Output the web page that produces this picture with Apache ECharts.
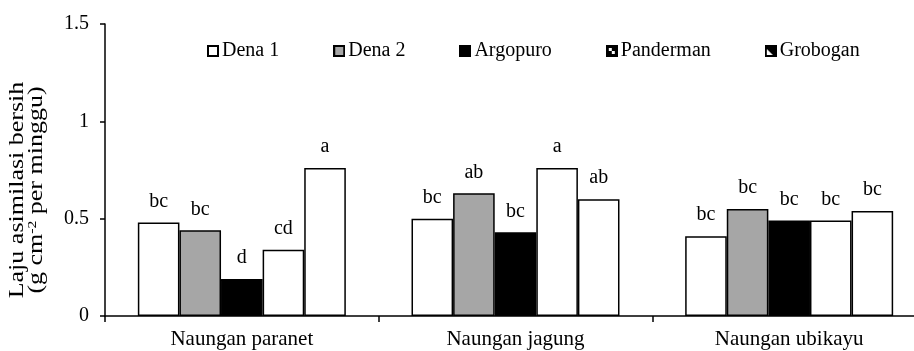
<!DOCTYPE html>
<html>
<head>
<meta charset="utf-8">
<script src="https://cdn.jsdelivr.net/npm/echarts@6/dist/echarts.min.js"></script>
<style>
  html, body { margin: 0; padding: 0; background: #fff; overflow: hidden; }
  #chart { width: 914px; height: 351px; }
</style>
</head>
<body>
<div id="chart"></div>
<script>
// Shade treatments on the x axis
const categories = ['Naungan paranet', 'Naungan jagung', 'Naungan ubikayu'];

// Net assimilation rate per variety (g cm-2 per week)
const dena1     = [0.48, 0.50, 0.41];
const dena2     = [0.44, 0.63, 0.55];
const argopuro  = [0.19, 0.43, 0.49];
const panderman = [0.34, 0.76, 0.49];
const grobogan  = [0.76, 0.60, 0.54];

// Significance letters shown above each bar
const lettersDena1     = ['bc', 'bc', 'bc'];
const lettersDena2     = ['bc', 'ab', 'bc'];
const lettersArgopuro  = ['d', 'bc', 'bc'];
const lettersPanderman = ['cd', 'a', 'bc'];
const lettersGrobogan  = ['a', 'ab', 'bc'];

const yTicks = [0, 0.5, 1, 1.5];

const FONT = '"Liberation Serif", "Times New Roman", serif';

// Small legend swatches drawn on a canvas
function swatch(draw) {
  const c = document.createElement('canvas');
  c.width = 12; c.height = 12;
  const g = c.getContext('2d');
  g.fillStyle = '#fff';
  g.fillRect(0, 0, 12, 12);
  draw(g);
  g.strokeStyle = '#000';
  g.lineWidth = 2;
  g.strokeRect(1, 1, 10, 10);
  return 'image://' + c.toDataURL();
}
const iconWhite = swatch(g => {});
const iconGray = swatch(g => { g.fillStyle = '#a6a6a6'; g.fillRect(0, 0, 12, 12); });
const iconBlack = swatch(g => { g.fillStyle = '#000'; g.fillRect(0, 0, 12, 12); });
const iconChecker = swatch(g => {
  g.fillStyle = '#000'; g.fillRect(0, 0, 12, 12);
  g.fillStyle = '#fff';
  g.fillRect(3, 3, 3, 3); g.fillRect(6, 6, 3, 3);
});
const iconDiag = swatch(g => {
  g.fillStyle = '#000'; g.fillRect(0, 0, 12, 12);
  g.fillStyle = '#fff';
  g.beginPath(); g.moveTo(2, 4); g.lineTo(2, 10); g.lineTo(8, 10); g.closePath(); g.fill();
});

function barSeries(name, values, letters, fill) {
  return {
    name: name,
    type: 'bar',
    data: values,
    barGap: '0%',
    barCategoryGap: '24%',
    itemStyle: { color: fill, borderColor: '#000', borderWidth: 1.5 },
    label: {
      show: true,
      position: 'top',
      distance: 11,
      formatter: p => letters[p.dataIndex],
      color: '#000',
      fontFamily: FONT,
      fontSize: 20
    }
  };
}

const chart = echarts.init(document.getElementById('chart'), null, { renderer: 'canvas' });
chart.setOption({
  animation: false,
  backgroundColor: '#fff',
  // The plot runs on past the right edge of the canvas
  grid: { left: 105, width: 821, top: 24, height: 292, containLabel: false, outerBoundsMode: 'none' },
  legend: {
    top: 41,
    left: 207,
    padding: 0,
    itemGap: 54,
    itemWidth: 12,
    itemHeight: 12,
    textStyle: { color: '#000', fontFamily: FONT, fontSize: 20, padding: [0, 0, 0, -2] },
    data: [
      { name: 'Dena 1', icon: iconWhite },
      { name: 'Dena 2', icon: iconGray },
      { name: 'Argopuro', icon: iconBlack },
      { name: 'Panderman', icon: iconChecker },
      { name: 'Grobogan', icon: iconDiag }
    ]
  },
  // Rotated y-axis title, two lines, drawn a little stretched along its length
  graphic: [{
    type: 'text',
    x: 27,
    y: 190,
    rotation: Math.PI / 2,
    scaleX: 1.3,
    style: {
      text: 'Laju asimilasi bersih\n(g cm{sup|-2} per minggu)',
      fontFamily: FONT,
      fontSize: 20,
      lineHeight: 19,
      fill: '#000',
      align: 'center',
      verticalAlign: 'middle',
      rich: { sup: { fontSize: 12, lineHeight: 10, verticalAlign: 'top', fontFamily: FONT, fill: '#000' } }
    }
  }],
  xAxis: {
    type: 'category',
    data: categories,
    axisLine: { lineStyle: { color: '#000', width: 1.5 } },
    axisTick: { show: true, length: 6, lineStyle: { color: '#000', width: 1.5 } },
    axisLabel: { color: '#000', fontFamily: FONT, fontSize: 21, margin: 13 }
  },
  yAxis: {
    type: 'value',
    min: yTicks[0],
    max: yTicks[yTicks.length - 1],
    interval: 0.5,
    splitLine: { show: false },
    axisLine: { show: true, lineStyle: { color: '#000', width: 1.5 } },
    axisTick: { show: true, length: 5, lineStyle: { color: '#000', width: 1.5 } },
    axisLabel: { color: '#000', fontFamily: FONT, fontSize: 20, margin: 16 }
  },
  series: [
    barSeries('Dena 1', dena1, lettersDena1, '#ffffff'),
    barSeries('Dena 2', dena2, lettersDena2, '#a6a6a6'),
    barSeries('Argopuro', argopuro, lettersArgopuro, '#000000'),
    barSeries('Panderman', panderman, lettersPanderman, '#ffffff'),
    barSeries('Grobogan', grobogan, lettersGrobogan, '#ffffff')
  ]
});
</script>
</body>
</html>
